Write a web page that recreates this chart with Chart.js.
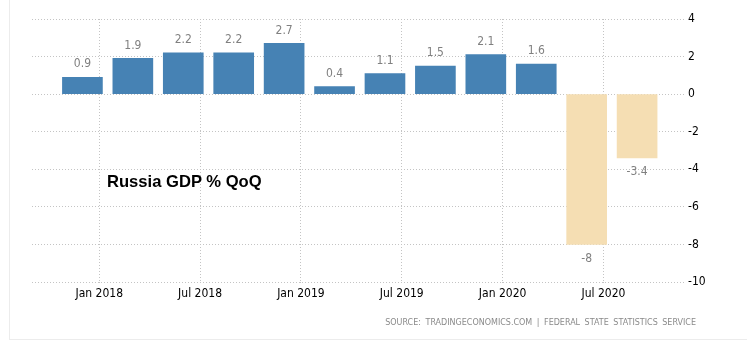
<!DOCTYPE html>
<html>
<head>
<meta charset="utf-8">
<script src="https://cdn.jsdelivr.net/npm/chart.js@4"></script>
<style>
  html, body { margin: 0; padding: 0; background: #fff; }
  body { width: 747px; height: 344px; position: relative; overflow: hidden; }
  #frame { position: absolute; left: 9px; top: -10px; width: 760px; height: 348px; border: 1px solid #ececec; }
  #wrap { position: absolute; left: 0; top: 0; width: 747px; height: 344px; }
  #title { position: absolute; left: 107px; top: 172px; font: bold 16.6px "Liberation Sans", Arial, sans-serif; color: #000; white-space: nowrap; }
  #source { position: absolute; right: 51px; top: 318px; font: 8px "DejaVu Sans", sans-serif; color: #8a8a8a; white-space: nowrap; word-spacing: 2px; }
</style>
</head>
<body>
<div id="frame"></div>
<div id="wrap"><canvas id="gdpChart" width="747" height="344"></canvas></div>
<div id="title">Russia GDP % QoQ</div>
<div id="source">SOURCE: TRADINGECONOMICS.COM | FEDERAL STATE STATISTICS SERVICE</div>
<script>
// quarterly GDP growth, quarter-end months
const quarters = ['2017-12', '2018-03', '2018-06', '2018-09', '2018-12', '2019-03',
                  '2019-06', '2019-09', '2019-12', '2020-03', '2020-06', '2020-09'];
const gdpQoQ = [0.9, 1.9, 2.2, 2.2, 2.7, 0.4, 1.1, 1.5, 2.1, 1.6, -8, -3.4];

const tickMonths = ['2018-01', '2018-07', '2019-01', '2019-07', '2020-01', '2020-07'];
const tickLabels = ['Jan 2018', 'Jul 2018', 'Jan 2019', 'Jul 2019', 'Jan 2020', 'Jul 2020'];

const yMin = -10, yMax = 4, yStep = 2;

// months counted from Jan 2018
function monthIndex(s) {
    const [y, m] = s.split('-').map(Number);
    return (y - 2018) * 12 + (m - 1);
}

const points = quarters.map((q, i) => ({ x: monthIndex(q), y: gdpQoQ[i] }));
const tickPos = tickMonths.map(monthIndex);

const tickFont = { family: '"DejaVu Sans Condensed", "DejaVu Sans", sans-serif', size: 12 };
const gridColor = '#c4c4c4';

// value labels above / below each bar
const valueLabels = {
    id: 'valueLabels',
    afterDatasetsDraw(chart) {
        const ctx = chart.ctx;
        const meta = chart.getDatasetMeta(0);
        ctx.save();
        ctx.font = '12px ' + tickFont.family;
        ctx.fillStyle = '#808080';
        ctx.textAlign = 'center';
        ctx.textBaseline = 'middle';
        meta.data.forEach((bar, i) => {
            const v = gdpQoQ[i];
            const y = v >= 0 ? bar.y - 13 : bar.y + 14;
            ctx.fillText(String(v), bar.x, y);
        });
        ctx.restore();
    }
};

new Chart(document.getElementById('gdpChart'), {
    type: 'bar',
    data: {
        datasets: [{
            data: points,
            backgroundColor: gdpQoQ.map(v => v >= 0 ? '#4682b4' : '#f5deb3'),
            barThickness: 40,
            borderWidth: 0
        }]
    },
    options: {
        responsive: false,
        animation: false,
        layout: { padding: { left: 32, top: 19, right: 0, bottom: 0 } },
        plugins: { legend: { display: false }, tooltip: { enabled: false } },
        scales: {
            x: {
                type: 'linear',
                min: -4,
                max: 34.85,
                offset: false,
                afterBuildTicks: (scale) => { scale.ticks = tickPos.map(v => ({ value: v })); },
                afterFit: (scale) => { scale.height = 62; },
                grid: { offset: false, color: gridColor, tickLength: 3, tickBorderDash: [1, 2], tickColor: gridColor },
                border: { display: false, dash: [1, 2] },
                ticks: {
                    padding: 2,
                    color: '#000',
                    font: tickFont,
                    maxRotation: 0,
                    autoSkip: false,
                    callback: (v) => tickLabels[tickPos.indexOf(v)] || ''
                }
            },
            y: {
                position: 'right',
                min: yMin,
                max: yMax,
                afterFit: (scale) => { scale.width = 62; },
                grid: { color: gridColor, drawTicks: false },
                border: { display: false, dash: [1, 2] },
                ticks: { stepSize: yStep, padding: 3, color: '#000', font: tickFont }
            }
        }
    },
    plugins: [valueLabels]
});
</script>
</body>
</html>
